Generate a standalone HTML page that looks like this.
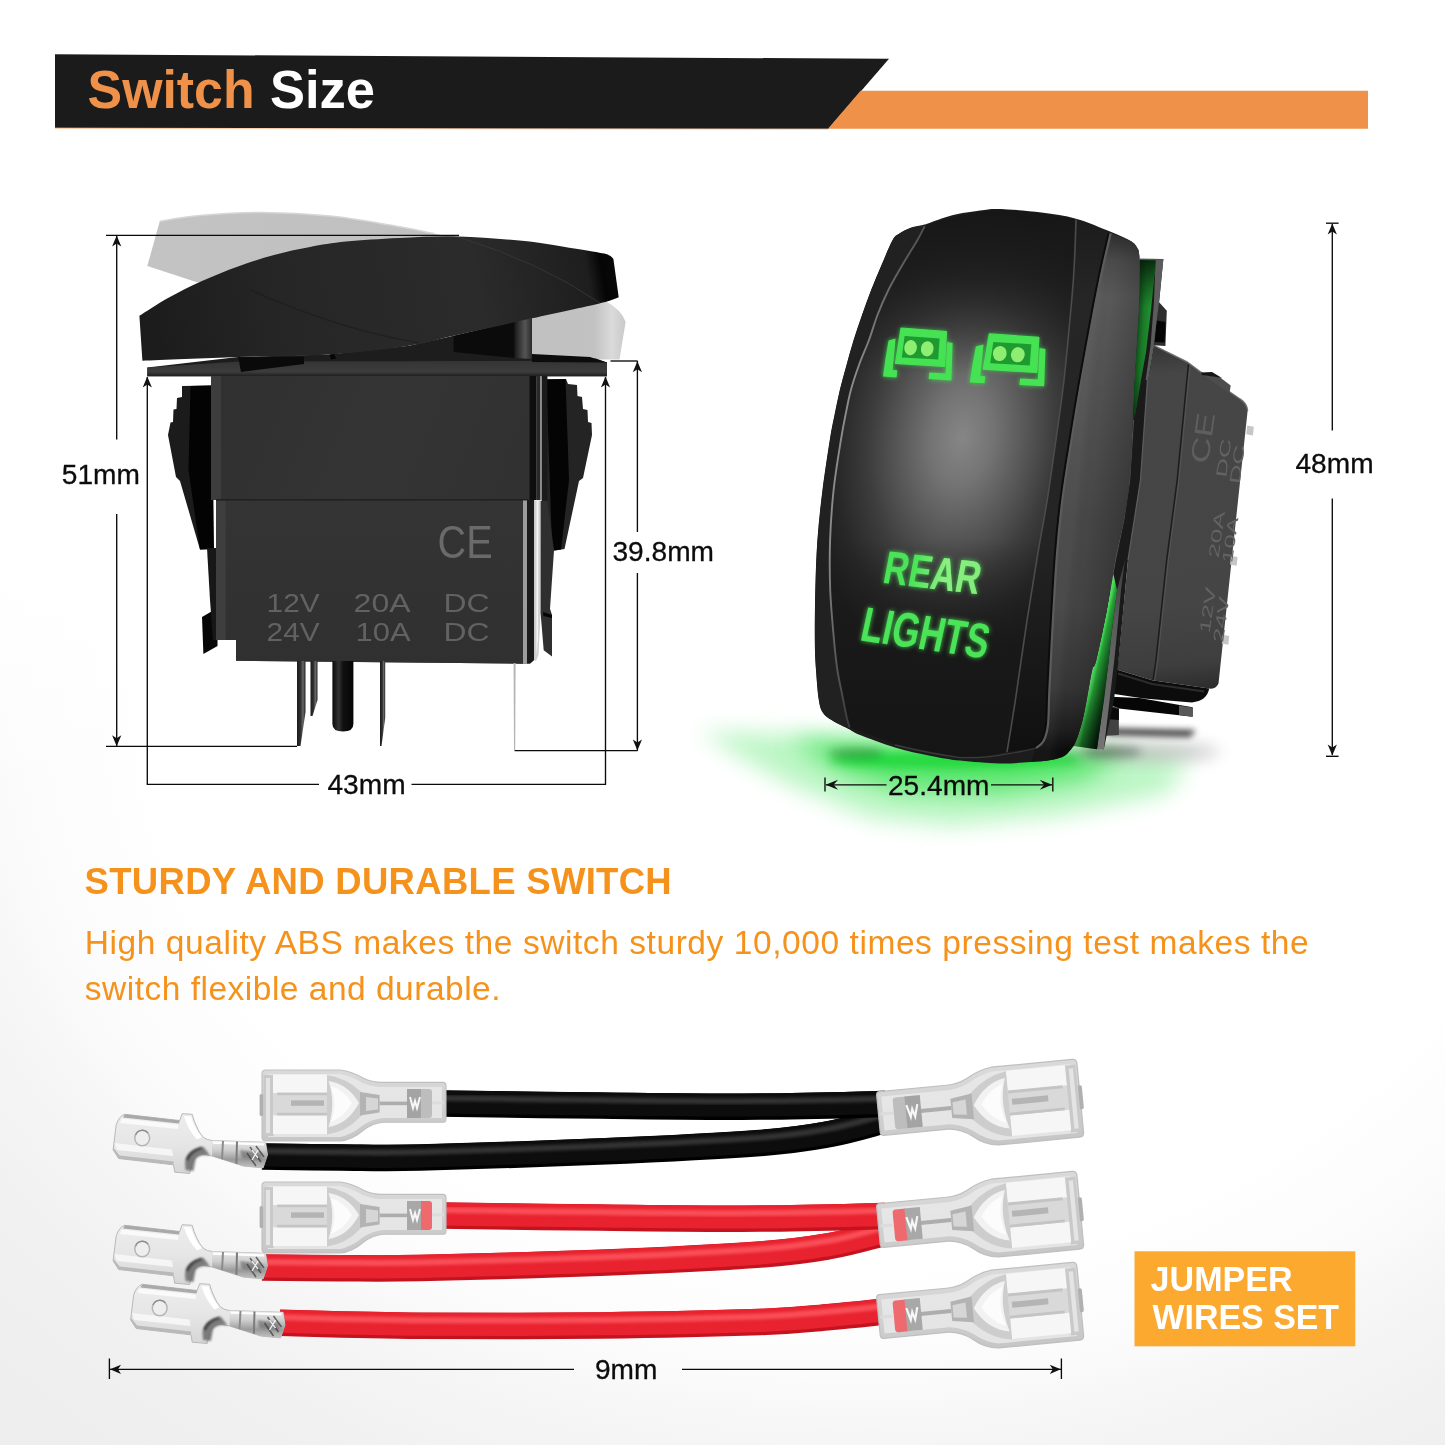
<!DOCTYPE html>
<html lang="en">
<head>
<meta charset="utf-8">
<title>Switch Size</title>
<style>
html,body{margin:0;padding:0;background:#fff;}
body{width:1445px;height:1445px;overflow:hidden;font-family:"Liberation Sans",sans-serif;}
svg{display:block;will-change:transform;}
text{font-family:"Liberation Sans",sans-serif;}
.dim{font-size:28.1px;fill:#0c0c0c;stroke:#0c0c0c;stroke-width:0.3px;}
.ln{stroke:#0a0a0a;stroke-width:1.35;fill:none;}
.ah{fill:#111;}
</style>
</head>
<body>
<svg width="1445" height="1445" viewBox="0 0 1445 1445">
<defs>

<radialGradient id="bgV" gradientUnits="userSpaceOnUse" cx="0" cy="0" r="1" gradientTransform="translate(850 700) scale(1220 982)">
<stop offset="0" stop-color="#ffffff"/><stop offset="0.57" stop-color="#ffffff"/><stop offset="0.63" stop-color="#fdfdfd"/><stop offset="0.69" stop-color="#fbfbfb"/><stop offset="0.75" stop-color="#f6f6f6"/><stop offset="0.81" stop-color="#f3f3f3"/><stop offset="0.88" stop-color="#f0f0f0"/><stop offset="1" stop-color="#eeeeee"/>
</radialGradient>
<linearGradient id="bgTop" gradientUnits="userSpaceOnUse" x1="0" y1="560" x2="0" y2="800"><stop offset="0" stop-color="#fff" stop-opacity="1"/><stop offset="0.35" stop-color="#fff" stop-opacity="0.75"/><stop offset="0.7" stop-color="#fff" stop-opacity="0.3"/><stop offset="1" stop-color="#fff" stop-opacity="0"/></linearGradient>


<linearGradient id="lgGhost" x1="0" y1="0" x2="1" y2="0"><stop offset="0" stop-color="#c3c3c3"/><stop offset="0.5" stop-color="#c1c1c1"/><stop offset="1" stop-color="#bfbfbf"/></linearGradient>
<linearGradient id="lgGhostR" x1="0" y1="0" x2="1" y2="0"><stop offset="0" stop-color="#c0c0c0"/><stop offset="0.68" stop-color="#c2c2c2"/><stop offset="0.86" stop-color="#dadada"/><stop offset="1" stop-color="#c9c9c9"/></linearGradient>
<linearGradient id="lgRock" gradientUnits="userSpaceOnUse" x1="140" y1="340" x2="620" y2="260"><stop offset="0" stop-color="#1b1b1b"/><stop offset="0.3" stop-color="#262626"/><stop offset="0.7" stop-color="#2b2b2b"/><stop offset="0.93" stop-color="#1e1e1e"/><stop offset="0.96" stop-color="#050505"/><stop offset="1" stop-color="#0a0a0a"/></linearGradient>
<linearGradient id="lgPlate" x1="0" y1="0" x2="0" y2="1"><stop offset="0" stop-color="#333"/><stop offset="0.75" stop-color="#3c3c3c"/><stop offset="1" stop-color="#1e1e1e"/></linearGradient>
<linearGradient id="lgBodyU" gradientUnits="userSpaceOnUse" x1="221" y1="376" x2="530" y2="500"><stop offset="0" stop-color="#303030"/><stop offset="0.5" stop-color="#343434"/><stop offset="1" stop-color="#313131"/></linearGradient>
<linearGradient id="lgBodyL" gradientUnits="userSpaceOnUse" x1="226" y1="500" x2="226" y2="661"><stop offset="0" stop-color="#343434"/><stop offset="1" stop-color="#303030"/></linearGradient>
<linearGradient id="lgPin" x1="0" y1="0" x2="1" y2="0"><stop offset="0" stop-color="#1a1a1a"/><stop offset="0.45" stop-color="#333"/><stop offset="0.7" stop-color="#6a6a6a"/><stop offset="1" stop-color="#222"/></linearGradient>
<linearGradient id="lgPinC" x1="0" y1="0" x2="1" y2="0"><stop offset="0" stop-color="#0a0a0a"/><stop offset="0.3" stop-color="#333"/><stop offset="0.5" stop-color="#111"/><stop offset="1" stop-color="#050505"/></linearGradient>
<linearGradient id="lgStem" x1="0" y1="0" x2="1" y2="0"><stop offset="0" stop-color="#1a1a1a"/><stop offset="0.6" stop-color="#555"/><stop offset="1" stop-color="#2a2a2a"/></linearGradient>


<radialGradient id="rgGlow" gradientUnits="userSpaceOnUse" cx="0" cy="0" r="1">
<stop offset="0" stop-color="#2fe04a" stop-opacity="1"/><stop offset="0.3" stop-color="#3be256" stop-opacity="0.92"/><stop offset="0.55" stop-color="#5fe873" stop-opacity="0.6"/><stop offset="0.8" stop-color="#8ef09c" stop-opacity="0.22"/><stop offset="1" stop-color="#a8f5b2" stop-opacity="0"/>
</radialGradient>
<radialGradient id="rgGlow2" gradientUnits="userSpaceOnUse" cx="0" cy="0" r="1">
<stop offset="0" stop-color="#4fe566" stop-opacity="0.9"/><stop offset="0.45" stop-color="#6fea82" stop-opacity="0.6"/><stop offset="0.75" stop-color="#98f0a6" stop-opacity="0.3"/><stop offset="1" stop-color="#b5f5c0" stop-opacity="0"/>
</radialGradient>
<radialGradient id="rgFace" gradientUnits="userSpaceOnUse" cx="0" cy="0" r="1" gradientTransform="translate(962 438) rotate(8) scale(150 235)">
<stop offset="0" stop-color="#868686"/><stop offset="0.2" stop-color="#747474"/><stop offset="0.42" stop-color="#575757"/><stop offset="0.62" stop-color="#3c3c3c"/><stop offset="0.82" stop-color="#282828"/><stop offset="1" stop-color="#1d1d1d"/>
</radialGradient>
<linearGradient id="lgSide" gradientUnits="userSpaceOnUse" x1="0" y1="235" x2="0" y2="750"><stop offset="0" stop-color="#2e2e2e"/><stop offset="0.05" stop-color="#4a4a4a"/><stop offset="0.12" stop-color="#585858"/><stop offset="0.36" stop-color="#4e4e4e"/><stop offset="0.55" stop-color="#464646"/><stop offset="0.72" stop-color="#434343"/><stop offset="0.88" stop-color="#343434"/><stop offset="0.96" stop-color="#1e1e1e"/><stop offset="1" stop-color="#0c0c0c"/></linearGradient>
<linearGradient id="lgSideH" gradientUnits="userSpaceOnUse" x1="1085" y1="400" x2="1135" y2="405"><stop offset="0" stop-color="#fff" stop-opacity="0.04"/><stop offset="0.3" stop-color="#000" stop-opacity="0"/><stop offset="1" stop-color="#000" stop-opacity="0.2"/></linearGradient>
<linearGradient id="lgBand" gradientUnits="userSpaceOnUse" x1="0" y1="220" x2="0" y2="750"><stop offset="0" stop-color="#1c1c1c"/><stop offset="0.15" stop-color="#262626"/><stop offset="0.6" stop-color="#242424"/><stop offset="1" stop-color="#101010"/></linearGradient>
<linearGradient id="lgGreenT" gradientUnits="userSpaceOnUse" x1="1139" y1="300" x2="1154" y2="301"><stop offset="0" stop-color="#0f4d19"/><stop offset="0.4" stop-color="#1b7c29"/><stop offset="1" stop-color="#249a36"/></linearGradient>
<linearGradient id="lgGreenTV" gradientUnits="userSpaceOnUse" x1="0" y1="260" x2="0" y2="420"><stop offset="0" stop-color="#061708" stop-opacity="0.85"/><stop offset="0.12" stop-color="#082a0d" stop-opacity="0.55"/><stop offset="0.3" stop-color="#0c3b13" stop-opacity="0"/><stop offset="0.7" stop-color="#0c3b13" stop-opacity="0.1"/><stop offset="1" stop-color="#0a2a0f" stop-opacity="0.9"/></linearGradient>
<linearGradient id="lgGreenBV" gradientUnits="userSpaceOnUse" x1="0" y1="640" x2="0" y2="750"><stop offset="0" stop-color="#000" stop-opacity="0"/><stop offset="0.5" stop-color="#000" stop-opacity="0.12"/><stop offset="1" stop-color="#000" stop-opacity="0.45"/></linearGradient>
<linearGradient id="lgStrip" gradientUnits="userSpaceOnUse" x1="0" y1="560" x2="0" y2="750"><stop offset="0" stop-color="#3a3a3a"/><stop offset="0.3" stop-color="#5a5a5a"/><stop offset="1" stop-color="#747474"/></linearGradient>
<linearGradient id="lgGreenB" gradientUnits="userSpaceOnUse" x1="1087.3" y1="697" x2="1107.8" y2="701.5"><stop offset="0" stop-color="#56e266"/><stop offset="0.1" stop-color="#3fce4f"/><stop offset="0.2" stop-color="#27a337"/><stop offset="0.45" stop-color="#187327"/><stop offset="0.75" stop-color="#0c3e14"/><stop offset="1" stop-color="#051507"/></linearGradient>
<linearGradient id="lgBack" gradientUnits="userSpaceOnUse" x1="1170" y1="350" x2="1200" y2="690"><stop offset="0" stop-color="#383838"/><stop offset="0.07" stop-color="#464646"/><stop offset="0.75" stop-color="#454545"/><stop offset="0.92" stop-color="#3e3e3e"/><stop offset="1" stop-color="#2c2c2c"/></linearGradient>
<filter id="fGlow" x="-30%" y="-30%" width="160%" height="160%"><feGaussianBlur stdDeviation="2.6"/></filter>
<filter id="fBlur3" x="-30%" y="-60%" width="160%" height="220%"><feGaussianBlur stdDeviation="3"/></filter>
<filter id="fBlur12" x="-30%" y="-80%" width="160%" height="260%"><feGaussianBlur stdDeviation="11"/></filter>
<filter id="fBlur5" x="-30%" y="-150%" width="160%" height="400%"><feGaussianBlur stdDeviation="5"/></filter>
<filter id="fBlur8" x="-30%" y="-60%" width="160%" height="220%"><feGaussianBlur stdDeviation="8"/></filter>
<clipPath id="cpRock"><path d="M849.2 729.3 C846.3 727.8 836.3 723.1 831.9 720.3 C827.5 717.5 825.1 716.1 822.9 712.7 C820.7 709.3 819.9 707.1 818.8 700 C817.6 692.9 816.7 680 816 670 C815.3 660 814.9 653.3 814.8 640 C814.7 626.7 814.9 606.7 815.3 590 C815.7 573.3 816.2 556.7 817.4 540 C818.6 523.3 820.4 506.7 822.5 490 C824.6 473.3 827.8 452.5 829.8 440 C831.8 427.5 832.8 423.3 834.5 415 C836.2 406.7 837.8 398.3 839.8 390 C841.8 381.7 844.2 373.3 846.5 365 C848.8 356.7 851 348.3 853.6 340 C856.2 331.7 859.1 323.3 862 315 C864.9 306.7 867.9 298.3 871.1 290 C874.4 281.7 877.9 273.3 881.5 265 C885.1 256.7 889.6 245.3 892.6 240 C895.6 234.7 896.7 235.2 899.7 233.2 C902.7 231.1 906.8 229.1 910.7 227.7 C914.6 226.3 921.1 225.4 923.2 224.9 C924.1 224.6 923.9 224.8 928.7 223.2 C933.5 221.6 943.7 217.3 952.2 215.2 C960.8 213.1 972 211.4 980 210.4 C988 209.4 989.8 208.7 1000 209 C1010.2 209.3 1028.8 210.9 1041.5 212.5 C1054.2 214.1 1064.5 215.5 1076 218.7 C1087.5 221.9 1101.5 228 1110.7 231.8 C1120 235.6 1126.9 238.5 1131.5 241.5 C1136.1 244.5 1137.2 248.4 1138.4 249.8 C1138.6 251.8 1139.5 253.6 1139.6 262 C1139.7 270.4 1139.6 287 1139.2 300 C1138.8 313 1137.8 326.7 1137 340 C1136.2 353.3 1135.1 365 1134.3 380 C1133.5 395 1133.1 413.3 1132.3 430 C1131.5 446.7 1130.9 465 1129.4 480 C1127.9 495 1125.9 506.7 1123.5 520 C1121.1 533.3 1117.8 544.9 1115 560 C1112.2 575.1 1109.8 594 1106.7 610.7 C1103.6 627.4 1098.7 650.1 1096.3 660 C1093.9 669.9 1093.8 663.8 1092.3 670 C1090.8 676.2 1088.9 688.7 1087.3 697 C1085.7 705.3 1084.2 713.3 1082.6 720 C1081 726.7 1079 732.6 1077.5 737 C1076 741.4 1074.2 744.6 1073.6 746.1 C1072.1 747.7 1068.4 753.5 1064.6 755.8 C1060.8 758.1 1056.6 759 1050.8 760 C1045 761 1038.5 761.4 1030 762 C1021.5 762.6 1011.7 763.6 1000 763.4 C988.3 763.2 971.7 761.9 960 760.6 C948.3 759.3 940.8 757.9 930 755.7 C919.2 753.5 906.7 750.9 895 747.4 C883.3 743.9 867.6 738 860 735 C852.4 732 851 730.2 849.2 729.3Z"/></clipPath>
<linearGradient id="lgTxtHi" gradientUnits="userSpaceOnUse" x1="0" y1="0" x2="97" y2="0"><stop offset="0" stop-color="#b8f59c" stop-opacity="0"/><stop offset="0.3" stop-color="#b8f59c" stop-opacity="0"/><stop offset="0.62" stop-color="#b8f59c" stop-opacity="0.6"/><stop offset="1" stop-color="#b8f59c" stop-opacity="0.5"/></linearGradient>
<radialGradient id="rgTxt" gradientUnits="userSpaceOnUse" cx="958" cy="566" r="58"><stop offset="0" stop-color="#a6f288"/><stop offset="0.45" stop-color="#62e660"/><stop offset="1" stop-color="#42df4f"/></radialGradient>
<linearGradient id="lgLineL" gradientUnits="userSpaceOnUse" x1="0" y1="226" x2="0" y2="726"><stop offset="0" stop-color="#4e4e4e"/><stop offset="0.3" stop-color="#8c8c8c"/><stop offset="0.65" stop-color="#8a8a8a"/><stop offset="1" stop-color="#3c3c3c"/></linearGradient>
<linearGradient id="lgFaceV" gradientUnits="userSpaceOnUse" x1="0" y1="209" x2="0" y2="760"><stop offset="0" stop-color="#161616" stop-opacity="0.95"/><stop offset="0.12" stop-color="#1a1a1a" stop-opacity="0.75"/><stop offset="0.3" stop-color="#222" stop-opacity="0"/><stop offset="0.6" stop-color="#1a1a1a" stop-opacity="0"/><stop offset="0.8" stop-color="#171717" stop-opacity="0.8"/><stop offset="1" stop-color="#151515" stop-opacity="1"/></linearGradient>


<filter id="fM" x="-20%" y="-20%" width="140%" height="140%"><feGaussianBlur stdDeviation="0.9"/></filter>
<filter id="fW" x="-5%" y="-100%" width="110%" height="300%"><feGaussianBlur stdDeviation="1.6"/></filter>
<linearGradient id="lgFem" x1="0" y1="0" x2="0" y2="1"><stop offset="0" stop-color="#dadada"/><stop offset="0.5" stop-color="#d0d0d0"/><stop offset="1" stop-color="#c6c6c6"/></linearGradient>
<linearGradient id="lgMale" x1="0" y1="0" x2="0" y2="1"><stop offset="0" stop-color="#ededed"/><stop offset="0.5" stop-color="#e6e6e6"/><stop offset="1" stop-color="#d6d6d6"/></linearGradient>
<linearGradient id="lgCrimp" x1="0" y1="0" x2="0" y2="1"><stop offset="0" stop-color="#e8e8e8"/><stop offset="0.35" stop-color="#cfcfcf"/><stop offset="0.7" stop-color="#9a9a9a"/><stop offset="1" stop-color="#c4c4c4"/></linearGradient>



</defs>

<rect width="1445" height="1445" fill="#ffffff"/>
<rect width="1445" height="1445" fill="url(#bgV)"/>
<rect width="1445" height="800" fill="url(#bgTop)"/>
<!-- header -->
<path d="M55 54.3 L889 58.8 L828.5 128.8 L55 127.8Z" fill="#1b1b1b"/>
<path d="M860.6 90.8 L1368 90.8 L1368 128.8 L828 128.8Z" fill="#f0914a"/>
<path d="M55 128.4 L828 129.2" stroke="#f0914a" stroke-width="0.9" opacity="0.55" fill="none"/>
<text x="87.6" y="108.2" font-size="53" font-weight="700" fill="#f0914a" textLength="167" lengthAdjust="spacingAndGlyphs">Switch</text>
<text x="270" y="108.2" font-size="53" font-weight="700" fill="#ffffff" textLength="105" lengthAdjust="spacingAndGlyphs">Size</text>
<!-- copy -->
<text x="84.6" y="893.6" font-size="36.5" font-weight="700" fill="#f5921b" letter-spacing="0.3">STURDY AND DURABLE SWITCH</text>
<text x="84.8" y="954.2" font-size="33.5" fill="#f5921b" letter-spacing="0.57">High quality ABS makes the switch sturdy 10,000 times pressing test makes the</text>
<text x="84.8" y="1000.2" font-size="33.5" fill="#f5921b" letter-spacing="0.5">switch flexible and durable.</text>
<!-- badge -->
<rect x="1134.5" y="1251.3" width="220.8" height="95" fill="#fca930"/>
<text x="1150.6" y="1291" font-size="35" font-weight="700" fill="#ffffff" textLength="142" lengthAdjust="spacingAndGlyphs">JUMPER</text>
<text x="1152.6" y="1329.2" font-size="35" font-weight="700" fill="#ffffff" textLength="186.5" lengthAdjust="spacingAndGlyphs">WIRES SET</text>

<!-- left switch -->
<g>
<path d="M147.3 266 L159.8 221.2 C166.5 220.2 183 216.9 200 215.5 C217 214.1 240.3 212.4 262 212.5 C283.7 212.6 308.7 213.9 330 216 C351.3 218.1 372.7 222.1 390 225 C407.3 227.9 419 230.4 434 233.6 C449 236.8 472.3 242.3 480 244 L480 290 L197 282.2Z" fill="url(#lgGhost)"/>
<path d="M159.8 221.2 C166.5 220.2 183 216.9 200 215.5 C217 214.1 240.3 212.4 262 212.5 C283.7 212.6 308.7 213.9 330 216 C351.3 218.1 372.7 222.1 390 225 C407.3 227.9 426.7 232.2 434 233.6" fill="none" stroke="#d6d6d6" stroke-width="1.5"/>
<path d="M528 300 L604 300 Q622 310 625.6 322 L619.5 359.6 L528 359.6Z" fill="url(#lgGhostR)"/>
<path d="M147.3 367.4 L238 357 L329 354.5 L409 345.7 L453.6 335.8 L514.6 322 L532 318.5 L532 362 L607 362 L607 376.3 L147.3 376.3Z" fill="#1d1d1d"/>
<path d="M147.3 367.4 L240 361.6 L560 360.8 L596 358.6 L607 362.6 L607 376.3 L147.3 376.3Z" fill="url(#lgPlate)"/>
<path d="M238.3 357.3 L304 356.6 L304 364 L241 372Z" fill="#0a0a0a"/>
<path d="M329.5 354.5 L334 353.8 L336 358.5 L331 359.5Z" fill="#050505"/>
<path d="M532 354 L590 357 L607 362.6 L532 362Z" fill="#0c0c0c"/>
<path d="M453.6 336 L514.6 321 L514.6 358 L453.6 352Z" fill="#0b0b0b"/>
<path d="M514.6 321 L532 318 L532 359 L514.6 358Z" fill="url(#lgStem)"/>
<path d="M139.4 315.8 C144.2 312.8 157.6 303.8 168 298 C178.4 292.2 190.3 286.2 202 281 C213.7 275.8 226 270.8 238 266.5 C250 262.2 262 258.2 274 255 C286 251.8 298 249.2 310 247 C322 244.8 331.2 243.1 346 241.6 C360.8 240.1 380.2 238.9 399 238 C417.8 237.1 437.6 235.9 458.5 236.4 C479.4 236.9 505.3 239.1 524.6 241.1 C543.9 243.1 561.1 246.5 574.4 248.6 C587.7 250.7 599.3 252.8 604.3 253.6 Q611 255 613.4 259 L618.7 297.2 C615.5 298.2 613.8 299.9 599.3 303.4 C584.8 306.9 556.3 312.9 532 318.3 C507.7 323.7 474.1 331.2 453.6 335.8 C433.1 340.4 429.7 342.6 409 345.7 C388.3 348.8 357.6 352.6 329.2 354.5 C300.8 356.4 269.4 356 238.3 357 C207.2 358 158.4 360.1 142.4 360.7Z" fill="url(#lgRock)"/>
<path d="M458 237 Q540 262 600 303" fill="none" stroke="#3a3a3a" stroke-width="1" opacity="0.8"/>
<path d="M250 290 Q340 330 420 343" fill="none" stroke="#1a1a1a" stroke-width="1.2" opacity="0.6"/>
<path d="M182 386 L211 385.5 L213 549 L200 549.5 L180 481 L176 477 L168 435 L170.5 422.5 L173 422 L173.5 409.5 L176.5 409 L177 398 L182 397Z" fill="#1b1b1b"/>
<path d="M190.5 386 L212 385.5 L214 549 L200 549.5 L188.5 470Z" fill="#030303"/>
<path d="M202 617 L217.5 608 L217.5 646 L203.4 654Z" fill="#070707"/>
<path d="M547 379 L566 379 L568 384 L577 385 L577.5 396 L582 397 L583 409 L587.5 410 L588 422 L591.5 423 L592 435 L583 478 L579 481 L564.5 549 L554.5 550.5 L547 550Z" fill="#242424"/>
<path d="M547 380 L565.5 379 L569 480 L561 549.5 L554.5 550.5 L552 545 L547 400Z" fill="#040404"/>
<rect x="211" y="376" width="325.5" height="124" fill="#3d3d3d"/>
<rect x="221" y="376" width="308.5" height="124" fill="url(#lgBodyU)"/>
<rect x="529.5" y="376" width="7" height="124" fill="#0e0e0e"/>
<rect x="536.5" y="376" width="4" height="124" fill="#2a2a2a"/>
<rect x="540.3" y="376" width="1.6" height="124" fill="#8a8a8a"/>
<rect x="541.9" y="376" width="5.5" height="174" fill="#1a1a1a"/>
<path d="M216 499.5 L527 499.5 L527 663.8 L236 660.7 L236 640 L216 640Z" fill="#3e3e3e"/>
<path d="M225.6 500.5 L523 500.5 L523 663.7 L236 660.7 L236 640 L225.6 640Z" fill="url(#lgBodyL)"/>
<path d="M216 499.8 L528 499.8" stroke="#1a1a1a" stroke-width="1.2"/>
<rect x="523" y="500.5" width="4" height="163.3" fill="#9c9c9c"/>
<path d="M527 500 L534.3 500 L534.3 660 L530 663.8 L527 663.8Z" fill="#1b1b1b"/>
<path d="M534.3 500.5 L540.6 500.5 L540.6 613 L538.5 655 L536 661 L534.3 660Z" fill="#d0d0d0"/>
<path d="M536.6 500.5 L538.4 500.5 L538 640 L536.4 655Z" fill="#f4f4f4"/>
<path d="M540.6 500.8 L547.5 500.8 L554 550.6 L550 608.8 L552 615 L552 656.5 L543.7 650.3 L540.6 613Z" fill="#2f2f2f"/>
<path d="M543 612 L552 615 L552 618 L543.4 616Z" fill="#050505"/>
<path d="M207 548 L216 548 L216 640 L213 640 L210 600Z" fill="#171717"/>
<path d="M297 661 L305.5 661 L305.5 712 L300.5 746 L297 746Z" fill="url(#lgPin)"/>
<path d="M310.5 661 L317.5 661 L317.5 700 L312.5 716 L310.5 716Z" fill="url(#lgPin)"/>
<path d="M332.4 661 L353.4 661 L353.4 724 Q353.4 731.5 343 731.5 Q332.4 731.5 332.4 724Z" fill="url(#lgPinC)"/>
<path d="M380 661 L385.2 661 L385.2 718 L381.5 746 L380 746Z" fill="url(#lgPin)"/>
<path d="M513.6 663 L515.6 663 L515.2 750 L514 750Z" fill="#b4b4b4"/>
<text x="266.6" y="611.8" font-size="26.4" fill="#626262" textLength="53" lengthAdjust="spacingAndGlyphs">12V</text><text x="353.6" y="611.8" font-size="26.4" fill="#626262" textLength="57" lengthAdjust="spacingAndGlyphs">20A</text><text x="443.6" y="611.8" font-size="26.4" fill="#626262" textLength="46" lengthAdjust="spacingAndGlyphs">DC</text>
<text x="266.6" y="641" font-size="26.4" fill="#626262" textLength="53" lengthAdjust="spacingAndGlyphs">24V</text><text x="355.6" y="641" font-size="26.4" fill="#626262" textLength="55" lengthAdjust="spacingAndGlyphs">10A</text><text x="443.6" y="641" font-size="26.4" fill="#626262" textLength="46" lengthAdjust="spacingAndGlyphs">DC</text>
<text x="437.6" y="557.6" font-size="46" fill="#6a6a6a" textLength="55" lengthAdjust="spacingAndGlyphs">CE</text>
</g>
<!-- right switch -->
<g>
<path d="M700 732 L830 735 L1000 744 L1110 752 L1190 763 L1165 794 L1060 816 L950 826 L870 818 L792 786 L742 758Z" fill="#8ff09e" opacity="0.6" filter="url(#fBlur12)"/>
<path d="M790 740 L870 742 L1060 750 L1120 757 L1085 780 L1000 794 L905 792 L845 775Z" fill="#4fe463" opacity="0.85" filter="url(#fBlur12)"/>
<ellipse cx="955" cy="760" rx="125" ry="9" fill="#22d83e" opacity="0.95" filter="url(#fBlur5)"/>
<ellipse cx="856" cy="753" rx="28" ry="6" fill="#12571d" opacity="0.36" filter="url(#fBlur5)"/>
<path d="M1104 728 L1196 730 L1190 737 L1108 735Z" fill="#000" opacity="0.75" filter="url(#fBlur3)"/>
<ellipse cx="1140" cy="752" rx="80" ry="10" fill="#000" opacity="0.2" filter="url(#fBlur8)"/><ellipse cx="1112" cy="752" rx="30" ry="5.5" fill="#000" opacity="0.32" filter="url(#fBlur5)"/>
<path d="M1153.6 345.3 L1187 362 L1200 371.6 L1240 399 Q1247 403.5 1247.6 411 L1218.5 683.4 Q1216 689 1209.2 688.6 L1152 680.3 L1114.7 669 L1118.4 660 L1128 560 L1140.5 480 L1147.5 380Z" fill="url(#lgBack)"/>
<path d="M1153.6 345.3 L1187 362 L1200 371.6 L1240 399 Q1247 403.5 1247.6 411" fill="none" stroke="#666" stroke-width="1.5" opacity="0.9"/>
<path d="M1188.4 364.4 L1186.9 380 L1177.2 480 L1166.7 560 L1156 660 L1153 680" fill="none" stroke="#1c1c1c" stroke-width="1.5"/>
<path d="M1190.2 366 L1188.6 380 L1178.9 480 L1168.4 560 L1157.7 660 L1154.8 680" fill="none" stroke="#5a5a5a" stroke-width="0.9" opacity="0.8"/>
<path d="M1202 374.4 L1219.5 377 L1230.7 385.6 L1229.5 393 L1205 376.5Z" fill="#4d4d4d"/>
<path d="M1201 372.4 L1212 372 L1222 378 L1219.5 377.4 L1202 375Z" fill="#161616"/>
<path d="M1158 301 L1166.8 310.7 L1165.4 346 L1153.6 345.3Z" fill="#2e2e2e"/>
<path d="M1156.6 320.4 L1165.4 322 L1164.6 342.6 L1154.6 342Z" fill="#050505"/>
<path d="M1114.7 669 L1152 680.3 L1209.2 688.6 Q1207 701 1192 702.4 L1143.8 698.6 L1112.7 693.8 L1110 684Z" fill="#0c0c0c"/>
<path d="M1118 673.5 L1152 684 L1204 691.6" fill="none" stroke="#2c2c2c" stroke-width="2"/>
<path d="M1110.7 696.7 L1139.6 698 L1192.6 707.3 L1192.6 716.7 L1118.9 708.4 L1108 704Z" fill="#060606"/>
<path d="M1179 705.6 L1192.6 707.6 L1192.6 716.7 L1179 715Z" fill="#585858"/>
<path d="M1104.4 704 L1118.9 708 L1118.9 735 L1102 736Z" fill="#414141"/>
<path d="M1106 706 L1118.9 709 L1118.9 720 L1106 719Z" fill="#0a0a0a"/>
<path d="M1247.2 425.5 l6.6 1.2 l-0.9 8.8 l-6.6 -1.2Z" fill="#c6c6c6"/>
<path d="M1231 555.8 l6.6 1.2 l-0.9 8.8 l-6.6 -1.2Z" fill="#c6c6c6"/>
<path d="M1222.7 634.7 l6.6 1.2 l-0.9 8.8 l-6.6 -1.2Z" fill="#c6c6c6"/>
<text transform="translate(1208 464.5) rotate(-82) scale(1 0.56)" font-size="46" fill="#5e5e5e" textLength="51" lengthAdjust="spacingAndGlyphs">CE</text>
<text transform="translate(1226 478) rotate(-82) scale(1 0.56)" font-size="26.4" fill="#636363" textLength="39" lengthAdjust="spacingAndGlyphs">DC</text><text transform="translate(1239.6 484.5) rotate(-82) scale(1 0.56)" font-size="26.4" fill="#636363" textLength="39" lengthAdjust="spacingAndGlyphs">DC</text>
<text transform="translate(1218.5 558.5) rotate(-82) scale(1 0.56)" font-size="26.4" fill="#636363" textLength="47" lengthAdjust="spacingAndGlyphs">20A</text><text transform="translate(1232 563.5) rotate(-82) scale(1 0.56)" font-size="26.4" fill="#636363" textLength="46" lengthAdjust="spacingAndGlyphs">10A</text>
<text transform="translate(1209.6 633.5) rotate(-82) scale(1 0.56)" font-size="26.4" fill="#636363" textLength="46" lengthAdjust="spacingAndGlyphs">12V</text><text transform="translate(1223 643) rotate(-82) scale(1 0.56)" font-size="26.4" fill="#636363" textLength="46" lengthAdjust="spacingAndGlyphs">24V</text>
<path d="M1139.6 259.5 L1163.3 259.5 L1159.2 301 L1153.6 345.3 L1147.5 380 L1140.5 480 L1128 560 L1118.6 660 L1114 700 L1103.8 749.3 L1074.7 745.2 L1087.3 700 L1096.3 660 L1115 560 L1129.4 480 L1134.3 380 L1139.2 300Z" fill="#1a1a1a"/>
<path d="M1133.4 420 L1129.6 480 L1123.7 520 L1115.4 560 L1110 590" fill="none" stroke="#5c5c5c" stroke-width="1.2" opacity="0.9"/>
<path d="M1155.6 259.6 L1163.3 259.8 L1159.2 301 L1153.6 345.3 L1147.5 380 L1145.6 380 L1150.6 345 L1154 301Z" fill="#5c5c5c"/>
<path d="M1147.5 380 L1140.5 480 L1128 560" fill="none" stroke="#5a5a5a" stroke-width="1.3"/>
<path d="M1139.8 259.2 L1163.4 259.6" fill="none" stroke="#555" stroke-width="1.4"/>
<path d="M1125 560 L1121 590 L1116.3 640 L1114.3 660 L1103.8 749.3 L1096.9 749.3 L1108.8 660 L1110.8 640 L1117 590Z" fill="url(#lgStrip)"/>
<path d="M1139.6 260 L1155.8 260.6 L1151 310 L1146 352 L1140.5 383 L1135 415 L1132.8 420 L1134.3 380 L1137 340 L1139.2 300Z" fill="url(#lgGreenT)"/>
<path d="M1139.6 260 L1155.8 260.6 L1151 310 L1146 352 L1140.5 383 L1135 415 L1132.8 420 L1134.3 380 L1137 340 L1139.2 300Z" fill="url(#lgGreenTV)"/>
<path d="M1113.4 574 L1117 590 L1110.8 640 L1108.8 660 L1104 700 L1096.9 749.3 L1073.6 746.1 L1077.5 737 L1082.6 720 L1087.3 697 L1092.3 670 L1096.3 660 L1106.7 610.7Z" fill="url(#lgGreenB)"/>
<path d="M1113.4 574 L1117 590 L1110.8 640 L1108.8 660 L1104 700 L1096.9 749.3 L1073.6 746.1 L1077.5 737 L1082.6 720 L1087.3 697 L1092.3 670 L1096.3 660 L1106.7 610.7Z" fill="url(#lgGreenBV)"/>
<path d="M849.2 729.3 C846.3 727.8 836.3 723.1 831.9 720.3 C827.5 717.5 825.1 716.1 822.9 712.7 C820.7 709.3 819.9 707.1 818.8 700 C817.6 692.9 816.7 680 816 670 C815.3 660 814.9 653.3 814.8 640 C814.7 626.7 814.9 606.7 815.3 590 C815.7 573.3 816.2 556.7 817.4 540 C818.6 523.3 820.4 506.7 822.5 490 C824.6 473.3 827.8 452.5 829.8 440 C831.8 427.5 832.8 423.3 834.5 415 C836.2 406.7 837.8 398.3 839.8 390 C841.8 381.7 844.2 373.3 846.5 365 C848.8 356.7 851 348.3 853.6 340 C856.2 331.7 859.1 323.3 862 315 C864.9 306.7 867.9 298.3 871.1 290 C874.4 281.7 877.9 273.3 881.5 265 C885.1 256.7 889.6 245.3 892.6 240 C895.6 234.7 896.7 235.2 899.7 233.2 C902.7 231.1 906.8 229.1 910.7 227.7 C914.6 226.3 921.1 225.4 923.2 224.9 C924.1 224.6 923.9 224.8 928.7 223.2 C933.5 221.6 943.7 217.3 952.2 215.2 C960.8 213.1 972 211.4 980 210.4 C988 209.4 989.8 208.7 1000 209 C1010.2 209.3 1028.8 210.9 1041.5 212.5 C1054.2 214.1 1064.5 215.5 1076 218.7 C1087.5 221.9 1101.5 228 1110.7 231.8 C1120 235.6 1126.9 238.5 1131.5 241.5 C1136.1 244.5 1137.2 248.4 1138.4 249.8 C1138.6 251.8 1139.5 253.6 1139.6 262 C1139.7 270.4 1139.6 287 1139.2 300 C1138.8 313 1137.8 326.7 1137 340 C1136.2 353.3 1135.1 365 1134.3 380 C1133.5 395 1133.1 413.3 1132.3 430 C1131.5 446.7 1130.9 465 1129.4 480 C1127.9 495 1125.9 506.7 1123.5 520 C1121.1 533.3 1117.8 544.9 1115 560 C1112.2 575.1 1109.8 594 1106.7 610.7 C1103.6 627.4 1098.7 650.1 1096.3 660 C1093.9 669.9 1093.8 663.8 1092.3 670 C1090.8 676.2 1088.9 688.7 1087.3 697 C1085.7 705.3 1084.2 713.3 1082.6 720 C1081 726.7 1079 732.6 1077.5 737 C1076 741.4 1074.2 744.6 1073.6 746.1 C1072.1 747.7 1068.4 753.5 1064.6 755.8 C1060.8 758.1 1056.6 759 1050.8 760 C1045 761 1038.5 761.4 1030 762 C1021.5 762.6 1011.7 763.6 1000 763.4 C988.3 763.2 971.7 761.9 960 760.6 C948.3 759.3 940.8 757.9 930 755.7 C919.2 753.5 906.7 750.9 895 747.4 C883.3 743.9 867.6 738 860 735 C852.4 732 851 730.2 849.2 729.3Z" fill="#1c1c1c"/>
<g clip-path="url(#cpRock)">
<path d="M1110.7 233.2 C1109.3 239.2 1105.2 256.3 1102.4 269.2 C1099.6 282.1 1097.6 292.2 1094.1 310.7 C1090.6 329.2 1085.3 358.4 1081.5 380 C1077.7 401.6 1074.7 420 1071.5 440 C1068.3 460 1064.8 480.8 1062.4 500 C1060 519.2 1058.5 534.6 1056.9 555.4 C1055.3 576.2 1054 602.2 1052.7 624.6 C1051.5 647 1050.2 673.3 1049.4 690 C1048.6 706.7 1049 716.1 1048 724.6 C1047 733.1 1045.6 737.1 1043.6 741 C1041.6 744.9 1037.3 746.8 1036 748 L1030 765 L1140 765 L1142 245 L1110.7 233.2Z" fill="url(#lgSide)"/>
<path d="M1110.7 233.2 C1109.3 239.2 1105.2 256.3 1102.4 269.2 C1099.6 282.1 1097.6 292.2 1094.1 310.7 C1090.6 329.2 1085.3 358.4 1081.5 380 C1077.7 401.6 1074.7 420 1071.5 440 C1068.3 460 1064.8 480.8 1062.4 500 C1060 519.2 1058.5 534.6 1056.9 555.4 C1055.3 576.2 1054 602.2 1052.7 624.6 C1051.5 647 1050.2 673.3 1049.4 690 C1048.6 706.7 1049 716.1 1048 724.6 C1047 733.1 1045.6 737.1 1043.6 741 C1041.6 744.9 1037.3 746.8 1036 748 L1030 765 L1140 765 L1142 245 L1110.7 233.2Z" fill="url(#lgSideH)"/>
<path d="M924.6 226.3 C923.4 228.6 921 233.9 917.5 240 C914 246.1 908.4 254.7 903.5 263 C898.6 271.3 892.7 281.3 888.4 290 C884.1 298.7 880.7 306.7 877.5 315 C874.3 323.3 872.1 331.7 869 340 C865.9 348.3 862 356.7 859 365 C856 373.3 853.1 381.7 850.9 390 C848.6 398.3 847.2 406.7 845.5 415 C843.8 423.3 842.9 427.5 840.9 440 C838.9 452.5 835.4 473.3 833.6 490 C831.8 506.7 830.7 523.3 830.1 540 C829.5 556.7 829.6 573.3 830.2 590 C830.9 606.7 832.8 626.7 834 640 C835.2 653.3 836 660.8 837.4 670 C838.8 679.2 840.8 687.7 842.3 695.4 C843.8 703.1 845.2 710.6 846.4 716 C847.6 721.4 849.1 725.7 849.6 727.6 L895 744 Q930 752.5 960 756.6 Q985 757 1007 752 C1008.4 743.3 1012.2 721.2 1015.4 700 C1018.6 678.8 1022.7 648.7 1026.4 624.6 C1030.1 600.5 1034 576.2 1037.5 555.4 C1041 534.6 1044.4 517.6 1047.2 500 C1050 482.4 1051.7 470 1054.5 450 C1057.3 430 1061.1 405.5 1064 380 C1066.9 354.5 1070.2 316.9 1072 296.9 C1073.8 276.9 1073.8 272.9 1074.5 260 C1075.2 247.1 1075.8 226.2 1076 219.4 Q1040 212 1000 209.5 Q960 212 924.6 226.3Z" fill="url(#rgFace)"/>
<path d="M924.6 226.3 C923.4 228.6 921 233.9 917.5 240 C914 246.1 908.4 254.7 903.5 263 C898.6 271.3 892.7 281.3 888.4 290 C884.1 298.7 880.7 306.7 877.5 315 C874.3 323.3 872.1 331.7 869 340 C865.9 348.3 862 356.7 859 365 C856 373.3 853.1 381.7 850.9 390 C848.6 398.3 847.2 406.7 845.5 415 C843.8 423.3 842.9 427.5 840.9 440 C838.9 452.5 835.4 473.3 833.6 490 C831.8 506.7 830.7 523.3 830.1 540 C829.5 556.7 829.6 573.3 830.2 590 C830.9 606.7 832.8 626.7 834 640 C835.2 653.3 836 660.8 837.4 670 C838.8 679.2 840.8 687.7 842.3 695.4 C843.8 703.1 845.2 710.6 846.4 716 C847.6 721.4 849.1 725.7 849.6 727.6 L895 744 Q930 752.5 960 756.6 Q985 757 1007 752 C1008.4 743.3 1012.2 721.2 1015.4 700 C1018.6 678.8 1022.7 648.7 1026.4 624.6 C1030.1 600.5 1034 576.2 1037.5 555.4 C1041 534.6 1044.4 517.6 1047.2 500 C1050 482.4 1051.7 470 1054.5 450 C1057.3 430 1061.1 405.5 1064 380 C1066.9 354.5 1070.2 316.9 1072 296.9 C1073.8 276.9 1073.8 272.9 1074.5 260 C1075.2 247.1 1075.8 226.2 1076 219.4 Q1040 212 1000 209.5 Q960 212 924.6 226.3Z" fill="url(#lgFaceV)"/>
<path d="M849.2 729.3 C846.3 727.8 836.3 723.1 831.9 720.3 C827.5 717.5 825.1 716.1 822.9 712.7 C820.7 709.3 819.9 707.1 818.8 700 C817.6 692.9 816.7 680 816 670 C815.3 660 814.9 653.3 814.8 640 C814.7 626.7 814.9 606.7 815.3 590 C815.7 573.3 816.2 556.7 817.4 540 C818.6 523.3 820.4 506.7 822.5 490 C824.6 473.3 827.8 452.5 829.8 440 C831.8 427.5 832.8 423.3 834.5 415 C836.2 406.7 837.8 398.3 839.8 390 C841.8 381.7 844.2 373.3 846.5 365 C848.8 356.7 851 348.3 853.6 340 C856.2 331.7 859.1 323.3 862 315 C864.9 306.7 867.9 298.3 871.1 290 C874.4 281.7 877.9 273.3 881.5 265 C885.1 256.7 889.6 245.3 892.6 240 C895.6 234.7 896.7 235.2 899.7 233.2 C902.7 231.1 906.8 229.1 910.7 227.7 C914.6 226.3 921.1 225.4 923.2 224.9 L924.6 226.3 C923.4 228.6 921 233.9 917.5 240 C914 246.1 908.4 254.7 903.5 263 C898.6 271.3 892.7 281.3 888.4 290 C884.1 298.7 880.7 306.7 877.5 315 C874.3 323.3 872.1 331.7 869 340 C865.9 348.3 862 356.7 859 365 C856 373.3 853.1 381.7 850.9 390 C848.6 398.3 847.2 406.7 845.5 415 C843.8 423.3 842.9 427.5 840.9 440 C838.9 452.5 835.4 473.3 833.6 490 C831.8 506.7 830.7 523.3 830.1 540 C829.5 556.7 829.6 573.3 830.2 590 C830.9 606.7 832.8 626.7 834 640 C835.2 653.3 836 660.8 837.4 670 C838.8 679.2 840.8 687.7 842.3 695.4 C843.8 703.1 845.2 710.6 846.4 716 C847.6 721.4 849.1 725.7 849.6 727.6Z" fill="#212121"/>
<path d="M1076 219.4 C1075.8 226.2 1075.2 247.1 1074.5 260 C1073.8 272.9 1073.8 276.9 1072 296.9 C1070.2 316.9 1066.9 354.5 1064 380 C1061.1 405.5 1057.3 430 1054.5 450 C1051.7 470 1050 482.4 1047.2 500 C1044.4 517.6 1041 534.6 1037.5 555.4 C1034 576.2 1030.1 600.5 1026.4 624.6 C1022.7 648.7 1018.6 678.8 1015.4 700 C1012.2 721.2 1008.4 743.3 1007 752 L1036 748 C1037.3 746.8 1041.6 744.9 1043.6 741 C1045.6 737.1 1047 733.1 1048 724.6 C1049 716.1 1048.6 706.7 1049.4 690 C1050.2 673.3 1051.5 647 1052.7 624.6 C1054 602.2 1055.3 576.2 1056.9 555.4 C1058.5 534.6 1060 519.2 1062.4 500 C1064.8 480.8 1068.3 460 1071.5 440 C1074.7 420 1077.7 401.6 1081.5 380 C1085.3 358.4 1090.6 329.2 1094.1 310.7 C1097.6 292.2 1099.6 282.1 1102.4 269.2 C1105.2 256.3 1109.3 239.2 1110.7 233.2 Z" fill="url(#lgBand)"/>
</g>
<path d="M924.6 226.3 C923.4 228.6 921 233.9 917.5 240 C914 246.1 908.4 254.7 903.5 263 C898.6 271.3 892.7 281.3 888.4 290 C884.1 298.7 880.7 306.7 877.5 315 C874.3 323.3 872.1 331.7 869 340 C865.9 348.3 862 356.7 859 365 C856 373.3 853.1 381.7 850.9 390 C848.6 398.3 847.2 406.7 845.5 415 C843.8 423.3 842.9 427.5 840.9 440 C838.9 452.5 835.4 473.3 833.6 490 C831.8 506.7 830.7 523.3 830.1 540 C829.5 556.7 829.6 573.3 830.2 590 C830.9 606.7 832.8 626.7 834 640 C835.2 653.3 836 660.8 837.4 670 C838.8 679.2 840.8 687.7 842.3 695.4 C843.8 703.1 845.2 710.6 846.4 716 C847.6 721.4 849.1 725.7 849.6 727.6" fill="none" stroke="url(#lgLineL)" stroke-width="1.9"/>
<path d="M1076 219.4 C1075.8 226.2 1075.2 247.1 1074.5 260 C1073.8 272.9 1073.8 276.9 1072 296.9 C1070.2 316.9 1066.9 354.5 1064 380 C1061.1 405.5 1057.3 430 1054.5 450 C1051.7 470 1050 482.4 1047.2 500 C1044.4 517.6 1041 534.6 1037.5 555.4 C1034 576.2 1030.1 600.5 1026.4 624.6 C1022.7 648.7 1018.6 678.8 1015.4 700 C1012.2 721.2 1008.4 743.3 1007 752" fill="none" stroke="#4c4c4c" stroke-width="1.6"/>
<path d="M1110.7 233.2 C1109.3 239.2 1105.2 256.3 1102.4 269.2 C1099.6 282.1 1097.6 292.2 1094.1 310.7 C1090.6 329.2 1085.3 358.4 1081.5 380 C1077.7 401.6 1074.7 420 1071.5 440 C1068.3 460 1064.8 480.8 1062.4 500 C1060 519.2 1058.5 534.6 1056.9 555.4 C1055.3 576.2 1054 602.2 1052.7 624.6 C1051.5 647 1050.2 673.3 1049.4 690 C1048.6 706.7 1049 716.1 1048 724.6 C1047 733.1 1045.6 737.1 1043.6 741 C1041.6 744.9 1037.3 746.8 1036 748" fill="none" stroke="#0c0c0c" stroke-width="2.2" transform="translate(-2 0)"/>
<path d="M1110.7 233.2 C1109.3 239.2 1105.2 256.3 1102.4 269.2 C1099.6 282.1 1097.6 292.2 1094.1 310.7 C1090.6 329.2 1085.3 358.4 1081.5 380 C1077.7 401.6 1074.7 420 1071.5 440 C1068.3 460 1064.8 480.8 1062.4 500 C1060 519.2 1058.5 534.6 1056.9 555.4 C1055.3 576.2 1054 602.2 1052.7 624.6 C1051.5 647 1050.2 673.3 1049.4 690 C1048.6 706.7 1049 716.1 1048 724.6 C1047 733.1 1045.6 737.1 1043.6 741 C1041.6 744.9 1037.3 746.8 1036 748" fill="none" stroke="#5c5c5c" stroke-width="2.2"/>
<path d="M1036 748 Q1024 751.6 1007 753.8 Q985 758.4 960 757.6 Q930 753.6 895 745" fill="none" stroke="#3a3a3a" stroke-width="1.3"/>
<g><g filter="url(#fGlow)" opacity="0.85"><path d="M901 328 L946.5 331.5 L944.5 366.5 L895.5 363.3Z" fill="#45e253"/><path d="M888.6 340.5 L895.6 338.5 L892.6 370 L897.2 370.3 L896.6 377.4 L883 376.5 L885.6 358Z" fill="#45e253"/><path d="M947.2 342 L952.6 343 L951.4 380.4 L928.7 379 L929.2 372.6 L945.6 373.6Z" fill="#45e253"/></g><path d="M901 328 L946.5 331.5 L944.5 366.5 L895.5 363.3Z" fill="#45e253" stroke="#45e253" stroke-width="1.2" stroke-linejoin="round"/><path d="M904.6 336 L939.6 338.4 L938.2 359.6 L901.8 357.4Z" fill="#1f9a30"/><ellipse cx="910.6" cy="347.6" rx="6.3" ry="7.6" fill="#8eee72" transform="rotate(8 910.6 347.6)"/><ellipse cx="927.2" cy="348.8" rx="6.3" ry="7.6" fill="#8eee72" transform="rotate(8 927.2 348.8)"/><path d="M888.6 340.5 L895.6 338.5 L892.6 370 L897.2 370.3 L896.6 377.4 L883 376.5 L885.6 358Z" fill="#45e253"/><path d="M947.2 342 L952.6 343 L951.4 380.4 L928.7 379 L929.2 372.6 L945.6 373.6Z" fill="#45e253"/></g>
<g transform="translate(969.9 5.9) scale(1.087 1) translate(-883.1 0)"><g><g filter="url(#fGlow)" opacity="0.85"><path d="M901 328 L946.5 331.5 L944.5 366.5 L895.5 363.3Z" fill="#45e253"/><path d="M888.6 340.5 L895.6 338.5 L892.6 370 L897.2 370.3 L896.6 377.4 L883 376.5 L885.6 358Z" fill="#45e253"/><path d="M947.2 342 L952.6 343 L951.4 380.4 L928.7 379 L929.2 372.6 L945.6 373.6Z" fill="#45e253"/></g><path d="M901 328 L946.5 331.5 L944.5 366.5 L895.5 363.3Z" fill="#45e253" stroke="#45e253" stroke-width="1.2" stroke-linejoin="round"/><path d="M904.6 336 L939.6 338.4 L938.2 359.6 L901.8 357.4Z" fill="#1f9a30"/><ellipse cx="910.6" cy="347.6" rx="6.3" ry="7.6" fill="#8eee72" transform="rotate(8 910.6 347.6)"/><ellipse cx="927.2" cy="348.8" rx="6.3" ry="7.6" fill="#8eee72" transform="rotate(8 927.2 348.8)"/><path d="M888.6 340.5 L895.6 338.5 L892.6 370 L897.2 370.3 L896.6 377.4 L883 376.5 L885.6 358Z" fill="#45e253"/><path d="M947.2 342 L952.6 343 L951.4 380.4 L928.7 379 L929.2 372.6 L945.6 373.6Z" fill="#45e253"/></g></g>
<g filter="url(#fGlow)" opacity="0.9">
<text transform="translate(881.6 582.8) rotate(6.8) skewX(-4)" font-size="46.6" font-weight="700" fill="#4be458" textLength="97" lengthAdjust="spacingAndGlyphs">REAR</text>
<text transform="translate(858.8 640.2) rotate(8.2) skewX(-4)" font-size="49" font-weight="700" fill="#4be458" textLength="128" lengthAdjust="spacingAndGlyphs">LIGHTS</text>
</g>
<g  opacity="1">
<text transform="translate(881.6 582.8) rotate(6.8) skewX(-4)" font-size="46.6" font-weight="700" fill="#4be458" textLength="97" lengthAdjust="spacingAndGlyphs">REAR</text>
<text transform="translate(858.8 640.2) rotate(8.2) skewX(-4)" font-size="49" font-weight="700" fill="#4be458" textLength="128" lengthAdjust="spacingAndGlyphs">LIGHTS</text>
</g>
<text transform="translate(881.6 582.8) rotate(6.8) skewX(-4)" font-size="46.6" font-weight="700" fill="url(#lgTxtHi)" textLength="97" lengthAdjust="spacingAndGlyphs">REAR</text>
</g>
<!-- jumper wires -->
<g>
<path d="M262 1156.6 C275 1156.7 313.7 1157.2 340 1157.4 C366.3 1157.6 376.7 1158.6 420 1157.6 C463.3 1156.6 543.3 1153.9 600 1151.5 C656.7 1149.1 721.7 1145.9 760 1143 C798.3 1140.1 809.7 1137.7 830 1134 C850.3 1130.3 873.3 1123.2 882 1121" fill="none" stroke="#000000" stroke-width="26.5"/><path d="M262 1156.6 C275 1156.7 313.7 1157.2 340 1157.4 C366.3 1157.6 376.7 1158.6 420 1157.6 C463.3 1156.6 543.3 1153.9 600 1151.5 C656.7 1149.1 721.7 1145.9 760 1143 C798.3 1140.1 809.7 1137.7 830 1134 C850.3 1130.3 873.3 1123.2 882 1121" fill="none" stroke="#0d0d0d" stroke-width="23.1" transform="translate(0 -1.6)"/><path d="M262 1156.6 C275 1156.7 313.7 1157.2 340 1157.4 C366.3 1157.6 376.7 1158.6 420 1157.6 C463.3 1156.6 543.3 1153.9 600 1151.5 C656.7 1149.1 721.7 1145.9 760 1143 C798.3 1140.1 809.7 1137.7 830 1134 C850.3 1130.3 873.3 1123.2 882 1121" fill="none" stroke="#404040" stroke-width="6" transform="translate(0 -5.5)" opacity="0.75" filter="url(#fW)"/>
<path d="M440 1103.6 C466.7 1103.9 546.7 1105.1 600 1105.6 C653.3 1106.1 712.5 1106.9 760 1106.6 C807.5 1106.3 864.2 1104.4 885 1104" fill="none" stroke="#000000" stroke-width="26.5"/><path d="M440 1103.6 C466.7 1103.9 546.7 1105.1 600 1105.6 C653.3 1106.1 712.5 1106.9 760 1106.6 C807.5 1106.3 864.2 1104.4 885 1104" fill="none" stroke="#0d0d0d" stroke-width="23.1" transform="translate(0 -1.6)"/><path d="M440 1103.6 C466.7 1103.9 546.7 1105.1 600 1105.6 C653.3 1106.1 712.5 1106.9 760 1106.6 C807.5 1106.3 864.2 1104.4 885 1104" fill="none" stroke="#404040" stroke-width="6" transform="translate(0 -5.5)" opacity="0.75" filter="url(#fW)"/>
<path d="M262 1267.6 C275 1267.7 313.7 1268.1 340 1268.2 C366.3 1268.3 376.7 1268.9 420 1268 C463.3 1267.1 543.3 1265 600 1262.8 C656.7 1260.5 721.7 1257.3 760 1254.5 C798.3 1251.7 809.7 1249.5 830 1246 C850.3 1242.5 873.3 1235.6 882 1233.5" fill="none" stroke="#c5121f" stroke-width="26.5"/><path d="M262 1267.6 C275 1267.7 313.7 1268.1 340 1268.2 C366.3 1268.3 376.7 1268.9 420 1268 C463.3 1267.1 543.3 1265 600 1262.8 C656.7 1260.5 721.7 1257.3 760 1254.5 C798.3 1251.7 809.7 1249.5 830 1246 C850.3 1242.5 873.3 1235.6 882 1233.5" fill="none" stroke="#e8222f" stroke-width="23.1" transform="translate(0 -1.6)"/><path d="M262 1267.6 C275 1267.7 313.7 1268.1 340 1268.2 C366.3 1268.3 376.7 1268.9 420 1268 C463.3 1267.1 543.3 1265 600 1262.8 C656.7 1260.5 721.7 1257.3 760 1254.5 C798.3 1251.7 809.7 1249.5 830 1246 C850.3 1242.5 873.3 1235.6 882 1233.5" fill="none" stroke="#ff5f66" stroke-width="6" transform="translate(0 -5.5)" opacity="0.75" filter="url(#fW)"/>
<path d="M440 1215.6 C466.7 1215.9 546.7 1217.1 600 1217.6 C653.3 1218.1 712.5 1218.9 760 1218.6 C807.5 1218.3 864.2 1216.4 885 1216" fill="none" stroke="#c5121f" stroke-width="26.5"/><path d="M440 1215.6 C466.7 1215.9 546.7 1217.1 600 1217.6 C653.3 1218.1 712.5 1218.9 760 1218.6 C807.5 1218.3 864.2 1216.4 885 1216" fill="none" stroke="#e8222f" stroke-width="23.1" transform="translate(0 -1.6)"/><path d="M440 1215.6 C466.7 1215.9 546.7 1217.1 600 1217.6 C653.3 1218.1 712.5 1218.9 760 1218.6 C807.5 1218.3 864.2 1216.4 885 1216" fill="none" stroke="#ff5f66" stroke-width="6" transform="translate(0 -5.5)" opacity="0.75" filter="url(#fW)"/>
<path d="M280 1322.8 C303.3 1323.3 366.7 1325.4 420 1325.8 C473.3 1326.2 543.3 1326 600 1325.4 C656.7 1324.8 721.7 1323.4 760 1322 C798.3 1320.6 809.2 1318.8 830 1317 C850.8 1315.2 875.8 1312.4 885 1311.5" fill="none" stroke="#c5121f" stroke-width="26.5"/><path d="M280 1322.8 C303.3 1323.3 366.7 1325.4 420 1325.8 C473.3 1326.2 543.3 1326 600 1325.4 C656.7 1324.8 721.7 1323.4 760 1322 C798.3 1320.6 809.2 1318.8 830 1317 C850.8 1315.2 875.8 1312.4 885 1311.5" fill="none" stroke="#e8222f" stroke-width="23.1" transform="translate(0 -1.6)"/><path d="M280 1322.8 C303.3 1323.3 366.7 1325.4 420 1325.8 C473.3 1326.2 543.3 1326 600 1325.4 C656.7 1324.8 721.7 1323.4 760 1322 C798.3 1320.6 809.2 1318.8 830 1317 C850.8 1315.2 875.8 1312.4 885 1311.5" fill="none" stroke="#ff5f66" stroke-width="6" transform="translate(0 -5.5)" opacity="0.75" filter="url(#fW)"/>
<g transform="translate(0 0)"><path d="M124.9 1114.3 L179.7 1120.5 L182.2 1113.7 L192.2 1114.3 Q194 1121 195.9 1124.9 Q199 1133 203.4 1137.4 Q207 1140 212.1 1140.5 L265.6 1142.3 L267.5 1154.8 L263.1 1167.9 L243.2 1166 L212.1 1156 Q204 1153.6 199.6 1154.8 Q194 1157 192.2 1162.3 L189.7 1173.5 L174.7 1172.2 L173.5 1164.8 L118.7 1158.5 L113.1 1149.8 L116.2 1124.9 Q119 1116 124.9 1114.3Z" fill="url(#lgMale)" stroke="#b2b2b2" stroke-width="0.9"/><path d="M124.9 1114.3 L179.7 1120.5 L179 1123.6 L123 1117.4Z" fill="#a9a9a9"/><path d="M122 1118.6 L178.6 1124.8 L178 1129 L120 1123Z" fill="#fafafa"/><path d="M114 1148.6 L119.6 1155.6 L173.6 1161.6 L173.5 1164.8 L118.7 1158.5 L113.1 1149.8Z" fill="#b9b9b9"/><path d="M114.4 1143 L172 1149.6 L173 1156 L117 1150Z" fill="#f7f7f7" opacity="0.9"/><ellipse cx="142.2" cy="1138" rx="7.4" ry="7.8" fill="#eeeeee" stroke="#b6b6b6" stroke-width="1.5"/><path d="M135.6 1135 A7.4 7.8 0 0 1 148 1133" fill="none" stroke="#8e8e8e" stroke-width="1.4"/><path d="M184 1116 L191 1116.4 Q194 1128 202 1137 L197 1139.5 Q188 1130 184 1116Z" fill="#ffffff"/><path d="M185 1163 Q186 1150 203.6 1147 L210 1155.4 Q199 1153.6 195.6 1159.6 L193.4 1171 L185.6 1170Z" fill="#6a6a6a" opacity="0.85" filter="url(#fM)"/><path d="M187 1160 Q190 1151 202 1147.6" fill="none" stroke="#2c2c2c" stroke-width="2.4" opacity="0.8" filter="url(#fM)"/><path d="M212.1 1140.5 L265.6 1142.3 L267.5 1154.8 L263.1 1167.9 L243.2 1166 L212.1 1156Z" fill="url(#lgCrimp)"/><path d="M213 1142.6 L264 1144.4" stroke="#ffffff" stroke-width="2.2" opacity="0.95" fill="none"/><path d="M222 1141 L224 1141 L223 1159.6 L221 1159Z" fill="#8c8c8c"/><path d="M236 1141.6 L238 1141.6 L237.4 1164 L235.4 1163.6Z" fill="#7c7c7c"/><path d="M240 1150 L262 1153 L261 1160 L242 1158Z" fill="#5e5e5e" opacity="0.55" filter="url(#fM)"/><path d="M250 1147 L261 1162 M256 1146 L264 1157 M247 1153 L256 1166" stroke="#3e3e3e" stroke-width="1.5" opacity="0.75" fill="none"/><path d="M252 1150 L258 1158 M258 1150 L252 1160" stroke="#ffffff" stroke-width="1.3" opacity="0.9" fill="none"/></g>
<g transform="translate(0 111)"><path d="M124.9 1114.3 L179.7 1120.5 L182.2 1113.7 L192.2 1114.3 Q194 1121 195.9 1124.9 Q199 1133 203.4 1137.4 Q207 1140 212.1 1140.5 L265.6 1142.3 L267.5 1154.8 L263.1 1167.9 L243.2 1166 L212.1 1156 Q204 1153.6 199.6 1154.8 Q194 1157 192.2 1162.3 L189.7 1173.5 L174.7 1172.2 L173.5 1164.8 L118.7 1158.5 L113.1 1149.8 L116.2 1124.9 Q119 1116 124.9 1114.3Z" fill="url(#lgMale)" stroke="#b2b2b2" stroke-width="0.9"/><path d="M124.9 1114.3 L179.7 1120.5 L179 1123.6 L123 1117.4Z" fill="#a9a9a9"/><path d="M122 1118.6 L178.6 1124.8 L178 1129 L120 1123Z" fill="#fafafa"/><path d="M114 1148.6 L119.6 1155.6 L173.6 1161.6 L173.5 1164.8 L118.7 1158.5 L113.1 1149.8Z" fill="#b9b9b9"/><path d="M114.4 1143 L172 1149.6 L173 1156 L117 1150Z" fill="#f7f7f7" opacity="0.9"/><ellipse cx="142.2" cy="1138" rx="7.4" ry="7.8" fill="#eeeeee" stroke="#b6b6b6" stroke-width="1.5"/><path d="M135.6 1135 A7.4 7.8 0 0 1 148 1133" fill="none" stroke="#8e8e8e" stroke-width="1.4"/><path d="M184 1116 L191 1116.4 Q194 1128 202 1137 L197 1139.5 Q188 1130 184 1116Z" fill="#ffffff"/><path d="M185 1163 Q186 1150 203.6 1147 L210 1155.4 Q199 1153.6 195.6 1159.6 L193.4 1171 L185.6 1170Z" fill="#6a6a6a" opacity="0.85" filter="url(#fM)"/><path d="M187 1160 Q190 1151 202 1147.6" fill="none" stroke="#2c2c2c" stroke-width="2.4" opacity="0.8" filter="url(#fM)"/><path d="M212.1 1140.5 L265.6 1142.3 L267.5 1154.8 L263.1 1167.9 L243.2 1166 L212.1 1156Z" fill="url(#lgCrimp)"/><path d="M213 1142.6 L264 1144.4" stroke="#ffffff" stroke-width="2.2" opacity="0.95" fill="none"/><path d="M222 1141 L224 1141 L223 1159.6 L221 1159Z" fill="#8c8c8c"/><path d="M236 1141.6 L238 1141.6 L237.4 1164 L235.4 1163.6Z" fill="#7c7c7c"/><path d="M240 1150 L262 1153 L261 1160 L242 1158Z" fill="#5e5e5e" opacity="0.55" filter="url(#fM)"/><path d="M250 1147 L261 1162 M256 1146 L264 1157 M247 1153 L256 1166" stroke="#3e3e3e" stroke-width="1.5" opacity="0.75" fill="none"/><path d="M252 1150 L258 1158 M258 1150 L252 1160" stroke="#ffffff" stroke-width="1.3" opacity="0.9" fill="none"/></g>
<g transform="translate(17.5 170)"><path d="M124.9 1114.3 L179.7 1120.5 L182.2 1113.7 L192.2 1114.3 Q194 1121 195.9 1124.9 Q199 1133 203.4 1137.4 Q207 1140 212.1 1140.5 L265.6 1142.3 L267.5 1154.8 L263.1 1167.9 L243.2 1166 L212.1 1156 Q204 1153.6 199.6 1154.8 Q194 1157 192.2 1162.3 L189.7 1173.5 L174.7 1172.2 L173.5 1164.8 L118.7 1158.5 L113.1 1149.8 L116.2 1124.9 Q119 1116 124.9 1114.3Z" fill="url(#lgMale)" stroke="#b2b2b2" stroke-width="0.9"/><path d="M124.9 1114.3 L179.7 1120.5 L179 1123.6 L123 1117.4Z" fill="#a9a9a9"/><path d="M122 1118.6 L178.6 1124.8 L178 1129 L120 1123Z" fill="#fafafa"/><path d="M114 1148.6 L119.6 1155.6 L173.6 1161.6 L173.5 1164.8 L118.7 1158.5 L113.1 1149.8Z" fill="#b9b9b9"/><path d="M114.4 1143 L172 1149.6 L173 1156 L117 1150Z" fill="#f7f7f7" opacity="0.9"/><ellipse cx="142.2" cy="1138" rx="7.4" ry="7.8" fill="#eeeeee" stroke="#b6b6b6" stroke-width="1.5"/><path d="M135.6 1135 A7.4 7.8 0 0 1 148 1133" fill="none" stroke="#8e8e8e" stroke-width="1.4"/><path d="M184 1116 L191 1116.4 Q194 1128 202 1137 L197 1139.5 Q188 1130 184 1116Z" fill="#ffffff"/><path d="M185 1163 Q186 1150 203.6 1147 L210 1155.4 Q199 1153.6 195.6 1159.6 L193.4 1171 L185.6 1170Z" fill="#6a6a6a" opacity="0.85" filter="url(#fM)"/><path d="M187 1160 Q190 1151 202 1147.6" fill="none" stroke="#2c2c2c" stroke-width="2.4" opacity="0.8" filter="url(#fM)"/><path d="M212.1 1140.5 L265.6 1142.3 L267.5 1154.8 L263.1 1167.9 L243.2 1166 L212.1 1156Z" fill="url(#lgCrimp)"/><path d="M213 1142.6 L264 1144.4" stroke="#ffffff" stroke-width="2.2" opacity="0.95" fill="none"/><path d="M222 1141 L224 1141 L223 1159.6 L221 1159Z" fill="#8c8c8c"/><path d="M236 1141.6 L238 1141.6 L237.4 1164 L235.4 1163.6Z" fill="#7c7c7c"/><path d="M240 1150 L262 1153 L261 1160 L242 1158Z" fill="#5e5e5e" opacity="0.55" filter="url(#fM)"/><path d="M250 1147 L261 1162 M256 1146 L264 1157 M247 1153 L256 1166" stroke="#3e3e3e" stroke-width="1.5" opacity="0.75" fill="none"/><path d="M252 1150 L258 1158 M258 1150 L252 1160" stroke="#ffffff" stroke-width="1.3" opacity="0.9" fill="none"/></g>
<g transform="translate(262 1070) scale(1 1)"><path d="M4 0 L78 0 Q90 1.5 101 8 Q110 12.4 120 12.4 L181 12.4 Q184 12.4 184 15.5 L184 49 Q184 52.3 181 52.3 L122 52.3 Q111 53 101 60.5 Q90 70 78 71 L4 71 Q0 71 0 67 L0 4 Q0 0 4 0Z" fill="url(#lgFem)" stroke="#bfbfbf" stroke-width="1.1"/><path d="M6 4 L78 4 Q89 6 99 12 Q109 17 120 17 L180 17 L180 48 L121 48 Q110 49 100 56 Q89 65 78 67 L6 67Z" fill="#e9e9e9" opacity="0.85"/><rect x="1.6" y="5" width="10" height="61" fill="#c9c9c9"/><rect x="4" y="8" width="4" height="55" fill="#e4e4e4"/><rect x="11" y="22" width="54" height="24" fill="#d9d9d9"/><rect x="11" y="4.6" width="54" height="18.4" fill="#f6f6f6"/><rect x="11" y="45.4" width="54" height="18.6" fill="#f6f6f6"/><rect x="15" y="22.6" width="50" height="2.6" fill="#c4c4c4"/><rect x="15" y="42.8" width="50" height="2.6" fill="#c4c4c4"/><rect x="29" y="30.4" width="33" height="5.4" fill="#b4b4b4"/><rect x="-2.4" y="24" width="3.6" height="22" rx="1.6" fill="#b0b0b0"/><path d="M65 5 Q84 8 98 21 L104 26 L104 42 L98 47 Q84 62 65 64.5Z" fill="#cdcdcd"/><path d="M66.5 11 Q86 14 97 33 Q86 54 66.5 57 Q74 33 66.5 11Z" fill="#f2f2f2"/><path d="M69 16 Q82 20 90 33 Q82 47 69 52 Q76 33 69 16Z" fill="#fcfcfc"/><path d="M98 22 L117.6 25 L117.6 42.5 L98 45.6Z" fill="#b3b3b3"/><path d="M104 27 L116 28.4 L116 39.5 L104 41Z" fill="#d6d6d6"/><rect x="117.6" y="31.6" width="28" height="3.6" fill="#adadad"/><path d="M158 19 L167 19 Q170 19 170 22 L170 45 Q170 48 167 48 L158 48Z" fill="#bdbdbd"/><rect x="145" y="19" width="14" height="29" fill="#a4a4a4"/><path d="M148 27 L151 38 L153 31 L155 38 L158 27" fill="none" stroke="#f6f6f6" stroke-width="2"/><rect x="170" y="31.4" width="12" height="3" fill="#dcdcdc"/></g>
<g transform="translate(262 1182) scale(1 1)"><path d="M4 0 L78 0 Q90 1.5 101 8 Q110 12.4 120 12.4 L181 12.4 Q184 12.4 184 15.5 L184 49 Q184 52.3 181 52.3 L122 52.3 Q111 53 101 60.5 Q90 70 78 71 L4 71 Q0 71 0 67 L0 4 Q0 0 4 0Z" fill="url(#lgFem)" stroke="#bfbfbf" stroke-width="1.1"/><path d="M6 4 L78 4 Q89 6 99 12 Q109 17 120 17 L180 17 L180 48 L121 48 Q110 49 100 56 Q89 65 78 67 L6 67Z" fill="#e9e9e9" opacity="0.85"/><rect x="1.6" y="5" width="10" height="61" fill="#c9c9c9"/><rect x="4" y="8" width="4" height="55" fill="#e4e4e4"/><rect x="11" y="22" width="54" height="24" fill="#d9d9d9"/><rect x="11" y="4.6" width="54" height="18.4" fill="#f6f6f6"/><rect x="11" y="45.4" width="54" height="18.6" fill="#f6f6f6"/><rect x="15" y="22.6" width="50" height="2.6" fill="#c4c4c4"/><rect x="15" y="42.8" width="50" height="2.6" fill="#c4c4c4"/><rect x="29" y="30.4" width="33" height="5.4" fill="#b4b4b4"/><rect x="-2.4" y="24" width="3.6" height="22" rx="1.6" fill="#b0b0b0"/><path d="M65 5 Q84 8 98 21 L104 26 L104 42 L98 47 Q84 62 65 64.5Z" fill="#cdcdcd"/><path d="M66.5 11 Q86 14 97 33 Q86 54 66.5 57 Q74 33 66.5 11Z" fill="#f2f2f2"/><path d="M69 16 Q82 20 90 33 Q82 47 69 52 Q76 33 69 16Z" fill="#fcfcfc"/><path d="M98 22 L117.6 25 L117.6 42.5 L98 45.6Z" fill="#b3b3b3"/><path d="M104 27 L116 28.4 L116 39.5 L104 41Z" fill="#d6d6d6"/><rect x="117.6" y="31.6" width="28" height="3.6" fill="#adadad"/><path d="M158 19 L167 19 Q170 19 170 22 L170 45 Q170 48 167 48 L158 48Z" fill="#ee6a6e"/><rect x="145" y="19" width="14" height="29" fill="#a8a8a8"/><path d="M148 27 L151 38 L153 31 L155 38 L158 27" fill="none" stroke="#f6f6f6" stroke-width="2"/><rect x="170" y="31.4" width="12" height="3" fill="#dcdcdc"/></g>
<g transform="translate(1076.5 1059) rotate(-5.5) scale(-1.1 1.1)"><path d="M4 0 L78 0 Q90 1.5 101 8 Q110 12.4 120 12.4 L181 12.4 Q184 12.4 184 15.5 L184 49 Q184 52.3 181 52.3 L122 52.3 Q111 53 101 60.5 Q90 70 78 71 L4 71 Q0 71 0 67 L0 4 Q0 0 4 0Z" fill="url(#lgFem)" stroke="#bfbfbf" stroke-width="1.1"/><path d="M6 4 L78 4 Q89 6 99 12 Q109 17 120 17 L180 17 L180 48 L121 48 Q110 49 100 56 Q89 65 78 67 L6 67Z" fill="#e9e9e9" opacity="0.85"/><rect x="1.6" y="5" width="10" height="61" fill="#c9c9c9"/><rect x="4" y="8" width="4" height="55" fill="#e4e4e4"/><rect x="11" y="22" width="54" height="24" fill="#d9d9d9"/><rect x="11" y="4.6" width="54" height="18.4" fill="#f6f6f6"/><rect x="11" y="45.4" width="54" height="18.6" fill="#f6f6f6"/><rect x="15" y="22.6" width="50" height="2.6" fill="#c4c4c4"/><rect x="15" y="42.8" width="50" height="2.6" fill="#c4c4c4"/><rect x="29" y="30.4" width="33" height="5.4" fill="#b4b4b4"/><rect x="-2.4" y="24" width="3.6" height="22" rx="1.6" fill="#b0b0b0"/><path d="M65 5 Q84 8 98 21 L104 26 L104 42 L98 47 Q84 62 65 64.5Z" fill="#cdcdcd"/><path d="M66.5 11 Q86 14 97 33 Q86 54 66.5 57 Q74 33 66.5 11Z" fill="#f2f2f2"/><path d="M69 16 Q82 20 90 33 Q82 47 69 52 Q76 33 69 16Z" fill="#fcfcfc"/><path d="M98 22 L117.6 25 L117.6 42.5 L98 45.6Z" fill="#b3b3b3"/><path d="M104 27 L116 28.4 L116 39.5 L104 41Z" fill="#d6d6d6"/><rect x="117.6" y="31.6" width="28" height="3.6" fill="#adadad"/><path d="M158 19 L167 19 Q170 19 170 22 L170 45 Q170 48 167 48 L158 48Z" fill="#bdbdbd"/><rect x="145" y="19" width="14" height="29" fill="#a4a4a4"/><path d="M148 27 L151 38 L153 31 L155 38 L158 27" fill="none" stroke="#f6f6f6" stroke-width="2"/><rect x="170" y="31.4" width="12" height="3" fill="#dcdcdc"/></g>
<g transform="translate(1076.5 1171) rotate(-5.5) scale(-1.1 1.1)"><path d="M4 0 L78 0 Q90 1.5 101 8 Q110 12.4 120 12.4 L181 12.4 Q184 12.4 184 15.5 L184 49 Q184 52.3 181 52.3 L122 52.3 Q111 53 101 60.5 Q90 70 78 71 L4 71 Q0 71 0 67 L0 4 Q0 0 4 0Z" fill="url(#lgFem)" stroke="#bfbfbf" stroke-width="1.1"/><path d="M6 4 L78 4 Q89 6 99 12 Q109 17 120 17 L180 17 L180 48 L121 48 Q110 49 100 56 Q89 65 78 67 L6 67Z" fill="#e9e9e9" opacity="0.85"/><rect x="1.6" y="5" width="10" height="61" fill="#c9c9c9"/><rect x="4" y="8" width="4" height="55" fill="#e4e4e4"/><rect x="11" y="22" width="54" height="24" fill="#d9d9d9"/><rect x="11" y="4.6" width="54" height="18.4" fill="#f6f6f6"/><rect x="11" y="45.4" width="54" height="18.6" fill="#f6f6f6"/><rect x="15" y="22.6" width="50" height="2.6" fill="#c4c4c4"/><rect x="15" y="42.8" width="50" height="2.6" fill="#c4c4c4"/><rect x="29" y="30.4" width="33" height="5.4" fill="#b4b4b4"/><rect x="-2.4" y="24" width="3.6" height="22" rx="1.6" fill="#b0b0b0"/><path d="M65 5 Q84 8 98 21 L104 26 L104 42 L98 47 Q84 62 65 64.5Z" fill="#cdcdcd"/><path d="M66.5 11 Q86 14 97 33 Q86 54 66.5 57 Q74 33 66.5 11Z" fill="#f2f2f2"/><path d="M69 16 Q82 20 90 33 Q82 47 69 52 Q76 33 69 16Z" fill="#fcfcfc"/><path d="M98 22 L117.6 25 L117.6 42.5 L98 45.6Z" fill="#b3b3b3"/><path d="M104 27 L116 28.4 L116 39.5 L104 41Z" fill="#d6d6d6"/><rect x="117.6" y="31.6" width="28" height="3.6" fill="#adadad"/><path d="M158 19 L167 19 Q170 19 170 22 L170 45 Q170 48 167 48 L158 48Z" fill="#ee6a6e"/><rect x="145" y="19" width="14" height="29" fill="#a8a8a8"/><path d="M148 27 L151 38 L153 31 L155 38 L158 27" fill="none" stroke="#f6f6f6" stroke-width="2"/><rect x="170" y="31.4" width="12" height="3" fill="#dcdcdc"/></g>
<g transform="translate(1076.5 1262) rotate(-5.5) scale(-1.1 1.1)"><path d="M4 0 L78 0 Q90 1.5 101 8 Q110 12.4 120 12.4 L181 12.4 Q184 12.4 184 15.5 L184 49 Q184 52.3 181 52.3 L122 52.3 Q111 53 101 60.5 Q90 70 78 71 L4 71 Q0 71 0 67 L0 4 Q0 0 4 0Z" fill="url(#lgFem)" stroke="#bfbfbf" stroke-width="1.1"/><path d="M6 4 L78 4 Q89 6 99 12 Q109 17 120 17 L180 17 L180 48 L121 48 Q110 49 100 56 Q89 65 78 67 L6 67Z" fill="#e9e9e9" opacity="0.85"/><rect x="1.6" y="5" width="10" height="61" fill="#c9c9c9"/><rect x="4" y="8" width="4" height="55" fill="#e4e4e4"/><rect x="11" y="22" width="54" height="24" fill="#d9d9d9"/><rect x="11" y="4.6" width="54" height="18.4" fill="#f6f6f6"/><rect x="11" y="45.4" width="54" height="18.6" fill="#f6f6f6"/><rect x="15" y="22.6" width="50" height="2.6" fill="#c4c4c4"/><rect x="15" y="42.8" width="50" height="2.6" fill="#c4c4c4"/><rect x="29" y="30.4" width="33" height="5.4" fill="#b4b4b4"/><rect x="-2.4" y="24" width="3.6" height="22" rx="1.6" fill="#b0b0b0"/><path d="M65 5 Q84 8 98 21 L104 26 L104 42 L98 47 Q84 62 65 64.5Z" fill="#cdcdcd"/><path d="M66.5 11 Q86 14 97 33 Q86 54 66.5 57 Q74 33 66.5 11Z" fill="#f2f2f2"/><path d="M69 16 Q82 20 90 33 Q82 47 69 52 Q76 33 69 16Z" fill="#fcfcfc"/><path d="M98 22 L117.6 25 L117.6 42.5 L98 45.6Z" fill="#b3b3b3"/><path d="M104 27 L116 28.4 L116 39.5 L104 41Z" fill="#d6d6d6"/><rect x="117.6" y="31.6" width="28" height="3.6" fill="#adadad"/><path d="M158 19 L167 19 Q170 19 170 22 L170 45 Q170 48 167 48 L158 48Z" fill="#ee6a6e"/><rect x="145" y="19" width="14" height="29" fill="#a8a8a8"/><path d="M148 27 L151 38 L153 31 L155 38 L158 27" fill="none" stroke="#f6f6f6" stroke-width="2"/><rect x="170" y="31.4" width="12" height="3" fill="#dcdcdc"/></g>
</g>
<!-- dimensions -->
<path class="ln" d="M106 235.4 L459 235.4"/>
<path class="ln" d="M116.7 236 L116.7 439.4"/>
<path class="ln" d="M116.7 514 L116.7 746"/>
<path class="ln" d="M106 746.4 L297 746.4"/>
<path class="ah" d="M116.7 235.6 L112.1 246.6 L116.7 243.6 L121.3 246.6Z"/>
<path class="ah" d="M116.7 746.2 L112.1 735.2 L116.7 738.2 L121.3 735.2Z"/>
<text class="dim" x="61.8" y="484.2">51mm</text>
<path class="ln" d="M147.3 377 L147.3 784.3"/>
<path class="ln" d="M605.5 377 L605.5 784.3"/>
<path class="ln" d="M146.7 784.3 L319 784.3"/>
<path class="ln" d="M411.5 784.3 L606.1 784.3"/>
<path class="ah" d="M147.3 376.5 L142.7 387.5 L147.3 384.5 L151.9 387.5Z"/>
<path class="ah" d="M605.5 376.5 L600.9 387.5 L605.5 384.5 L610.1 387.5Z"/>
<text class="dim" x="327.5" y="794.4">43mm</text>
<path class="ln" d="M610.5 361 L637.6 361"/>
<path class="ln" d="M637.4 361 L637.4 532"/>
<path class="ln" d="M637.4 573 L637.4 750.6"/>
<path class="ln" d="M514.6 750.6 L637.6 750.6"/>
<path class="ah" d="M637.4 361.3 L632.8 372.3 L637.4 369.3 L642 372.3Z"/>
<path class="ah" d="M637.4 750.4 L632.8 739.4 L637.4 742.4 L642 739.4Z"/>
<text class="dim" x="612.5" y="560.5">39.8mm</text>
<path class="ln" d="M1326 223.2 L1338.6 223.2"/>
<path class="ln" d="M1332.3 224 L1332.3 430.5"/>
<path class="ln" d="M1332.3 498.5 L1332.3 755"/>
<path class="ln" d="M1326 756.3 L1338.6 756.3"/>
<path class="ah" d="M1332.3 223.6 L1327.7 234.6 L1332.3 231.6 L1336.9 234.6Z"/>
<path class="ah" d="M1332.3 755.6 L1327.7 744.6 L1332.3 747.6 L1336.9 744.6Z"/>
<text class="dim" x="1295.5" y="473">48mm</text>
<path class="ln" d="M825 777.5 L825 791.5"/>
<path class="ln" d="M1052.8 777.5 L1052.8 791.5"/>
<path class="ln" d="M826 784.8 L886.5 784.8"/>
<path class="ln" d="M991 784.8 L1052 784.8"/>
<path class="ah" d="M825.6 784.8 L838.1 779.8 L833.6 784.8 L838.1 789.8Z"/>
<path class="ah" d="M1052.2 784.8 L1039.7 779.8 L1044.2 784.8 L1039.7 789.8Z"/>
<text class="dim" x="888" y="794.6">25.4mm</text>
<path class="ln" d="M109.4 1358.5 L109.4 1379"/>
<path class="ln" d="M1061.4 1358.5 L1061.4 1379"/>
<path class="ln" d="M110 1369.3 L574 1369.3"/>
<path class="ln" d="M682 1369.3 L1061 1369.3"/>
<path class="ah" d="M110 1369.3 L121 1364.7 L118 1369.3 L121 1373.9Z"/>
<path class="ah" d="M1060.8 1369.3 L1049.8 1364.7 L1052.8 1369.3 L1049.8 1373.9Z"/>
<text class="dim" x="595" y="1378.6">9mm</text>

</svg>
</body>
</html>
